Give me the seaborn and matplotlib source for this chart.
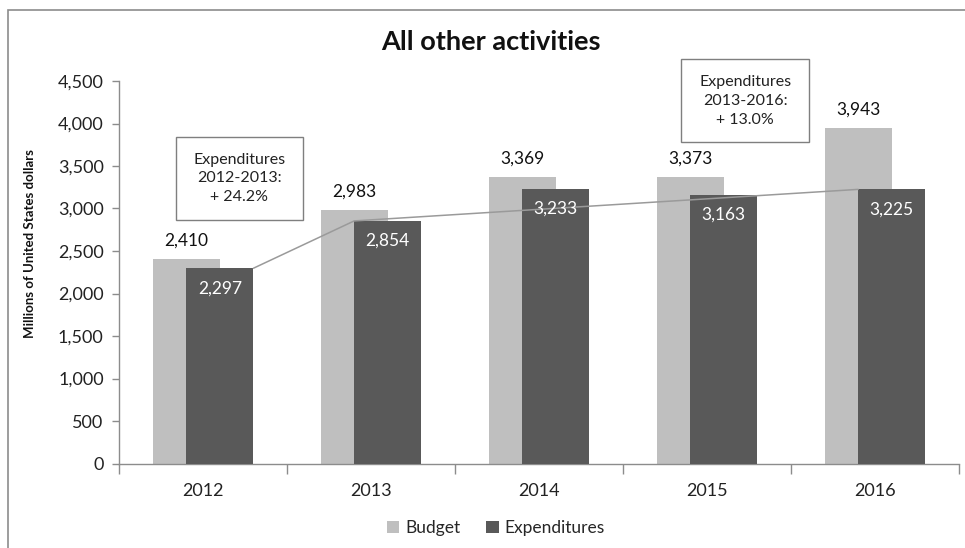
import matplotlib
matplotlib.use("Agg")
import matplotlib.pyplot as plt
import seaborn as sns
import pandas as pd
from matplotlib.patches import Rectangle, Patch

years = ["2012", "2013", "2014", "2015", "2016"]
budget = [2410, 2983, 3369, 3373, 3943]
expenditures = [2297, 2854, 3233, 3163, 3225]
series = ["Budget", "Expenditures"]
yticks = [0, 500, 1000, 1500, 2000, 2500, 3000, 3500, 4000, 4500]
title = "All other activities"
ylabel = "Millions of United States dollars"
note1 = "Expenditures\n2012-2013:\n+ 24.2%"
note2 = "Expenditures\n2013-2016:\n+ 13.0%"

sns.set_theme(style="white")
plt.rcParams["font.family"] = ["Lato", "DejaVu Sans"]

df = pd.DataFrame({
    "year": years * 2,
    "value": budget + expenditures,
    "series": [series[0]] * len(years) + [series[1]] * len(years),
})

W, H = 965, 548
fig = plt.figure(figsize=(W / 100, H / 100), dpi=100)
ax = fig.add_axes([119 / W, 1 - 463.5 / H, (959 - 119) / W, (463.5 - 81) / H])

c_budget = "#bfbfbf"
c_exp = "#595959"
sns.barplot(data=df, x="year", y="value", hue="series", order=years,
            hue_order=series, palette=[c_budget, c_exp], width=0.8,
            dodge=True, saturation=1, legend=False, ax=ax, errorbar=None)

# overlap bars: shift budget right, expenditures left
n = len(years)
bars = [p for p in ax.patches if isinstance(p, Rectangle)]
for i, p in enumerate(bars[:2 * n]):
    if i < n:
        p.set_x(p.get_x() + 0.1)
        p.set_zorder(2)
    else:
        p.set_x(p.get_x() - 0.1)
        p.set_zorder(3)
    p.set_edgecolor("none")

ax.set_xlim(-0.5, n - 0.5)
ax.set_ylim(0, 4500)
ax.set_yticks(yticks)
ax.set_yticklabels([f"{v:,}" for v in yticks])
ax.set_xlabel("")
ax.set_ylabel(ylabel, fontsize=9.5, fontweight="bold", color="#111111")
ax.yaxis.set_label_coords(-83 / 840, 0.575)

for s in ["top", "right"]:
    ax.spines[s].set_visible(False)
for s in ["left", "bottom"]:
    ax.spines[s].set_color("#8c8c8c")
    ax.spines[s].set_linewidth(1)

ax.tick_params(axis="y", which="major", left=True, length=5, width=1,
               color="#8c8c8c", labelsize=13, labelcolor="#222222", pad=6)
ax.tick_params(axis="x", which="major", bottom=False, length=0,
               labelsize=13, labelcolor="#222222", pad=14)
ax.set_xticks([i - 0.5 for i in range(n + 1)], minor=True)
ax.tick_params(axis="x", which="minor", bottom=True, length=7, width=1,
               color="#8c8c8c")

# data labels
for i in range(n):
    ax.text(i - 0.1, budget[i] + 215, f"{budget[i]:,}", ha="center", va="center",
            fontsize=12.5, color="#111111", zorder=5)
    ax.text(i + 0.1, expenditures[i] - 235, f"{expenditures[i]:,}", ha="center",
            va="center", fontsize=12.5, color="white", zorder=5)

# connecting trend line for expenditures
lx = [0 + 0.3, 1 - 0.1, 4 - 0.1]
ly = [expenditures[0], expenditures[1], expenditures[4]]
ax.plot(lx, ly, color="#9a9a9a", lw=1.1, zorder=4)

# annotation boxes
for (x0, x1, y0, y1), note in [((-0.163, 0.595, 2865, 3841), note1),
                               ((2.845, 3.61, 3779, 4759), note2)]:
    ax.add_patch(Rectangle((x0, y0), x1 - x0, y1 - y0, fc="white",
                           ec="#7f7f7f", lw=1, zorder=6, clip_on=False))
    ax.text((x0 + x1) / 2, (y0 + y1) / 2, note, ha="center", va="center",
            fontsize=11.5, color="#222222", linespacing=1.45, zorder=7)

fig.text(491 / W, 1 - 42 / H, title, ha="center", va="center",
         fontsize=19.5, fontweight="bold", color="#111111")

handles = [Patch(facecolor=c_budget, edgecolor="none", label=series[0]),
           Patch(facecolor=c_exp, edgecolor="none", label=series[1])]
fig.legend(handles=handles, loc="center", bbox_to_anchor=(496 / W, 1 - 528 / H),
           ncol=2, frameon=False, fontsize=12.5, handlelength=0.7,
           handleheight=0.7, handletextpad=0.35, columnspacing=1.5)

# outer chart border (top and left visible)
fig.patches.append(Rectangle((8 / W, -0.05), 1.1, 1 - 10 / H + 0.05,
                             transform=fig.transFigure, fill=False,
                             ec="#8c8c8c", lw=1.2, zorder=0))

fig.savefig("out.png", dpi=100)
